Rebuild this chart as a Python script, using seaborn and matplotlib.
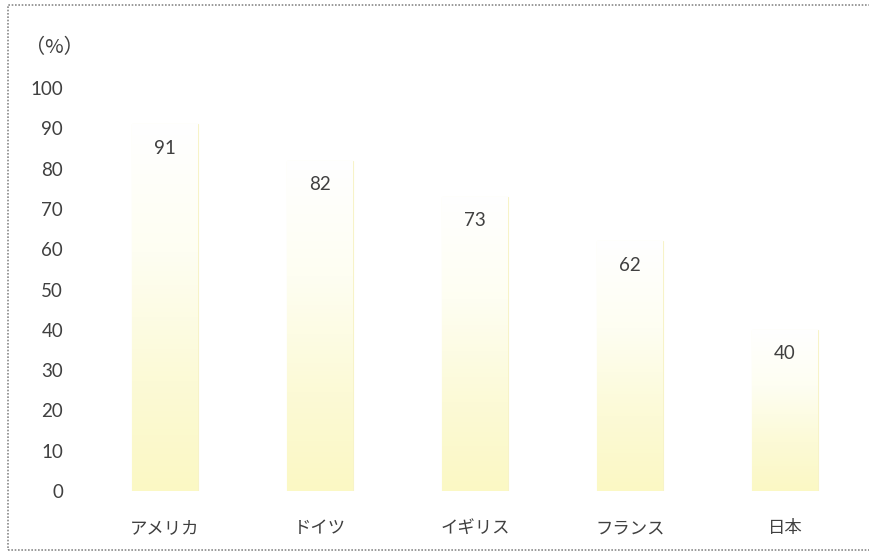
import numpy as np
import pandas as pd
import matplotlib
matplotlib.use("Agg")
import matplotlib.pyplot as plt
import seaborn as sns
from matplotlib.patches import Rectangle
from matplotlib.colors import LinearSegmentedColormap

countries = ["アメリカ", "ドイツ", "イギリス", "フランス", "日本"]
values = [91, 82, 73, 62, 40]
yticks = [0, 10, 20, 30, 40, 50, 60, 70, 80, 90, 100]

sns.set_theme(style="white")
plt.rcParams['font.family'] = ['Lato', 'Noto Sans CJK JP', 'DejaVu Sans']

W, H = 870, 557
fig = plt.figure(figsize=(W / 100, H / 100), dpi=100)
ax = fig.add_axes([87.5 / W, 1 - 491 / H, (862.5 - 87.5) / W, (491 - 88) / H])

df = pd.DataFrame({"country": countries, "value": values})
sns.barplot(data=df, x="country", y="value", ax=ax, width=0.42,
            facecolor="none", edgecolor="#f7f3c8", linewidth=0.8)

cmap = LinearSegmentedColormap.from_list(
    "yg", [(0.0, "#fbf8c4"), (0.3, "#fcfad6"), (0.65, "#fefef2"), (1.0, "#ffffff")])
grad = np.linspace(0, 1, 256).reshape(-1, 1)
for p, v in zip(ax.patches, values):
    x0, y0 = p.get_x(), p.get_y()
    w, h = p.get_width(), p.get_height()
    im = ax.imshow(grad, cmap=cmap, aspect="auto", origin="lower",
                   extent=[x0, x0 + w, y0, y0 + h], zorder=1, interpolation="bicubic")
    im.set_clip_path(p)
    ax.text(x0 + w / 2, v - 6, f"{v}", ha="center", va="center",
            fontsize=13.5, color="#404040", zorder=3)

ax.set_xlim(-0.5, len(countries) - 0.5)
ax.set_ylim(0, 100)
ax.set_yticks(yticks)
ax.set_yticklabels([str(t) for t in yticks])
ax.tick_params(axis="y", length=0, pad=17.5, labelsize=13.5, labelcolor="#404040")
ax.tick_params(axis="x", length=0, pad=21, labelsize=12.5, labelcolor="#404040")
ax.set_xlabel("")
ax.set_ylabel("")
for s in ax.spines.values():
    s.set_visible(False)

fig.text(54 / W, 1 - 48 / H, "（%）", ha="center", va="center",
         fontsize=14.5, color="#404040", family=['Noto Sans CJK JP', 'DejaVu Sans'])

fig.patches.append(Rectangle((8 / W, 1 - 550 / H), (900 - 8) / W, (550 - 5) / H,
                             transform=fig.transFigure, fill=False,
                             edgecolor="#8a8a8a", linestyle=(0, (1, 1)), linewidth=1.2))

fig.savefig("out.png", dpi=100)
